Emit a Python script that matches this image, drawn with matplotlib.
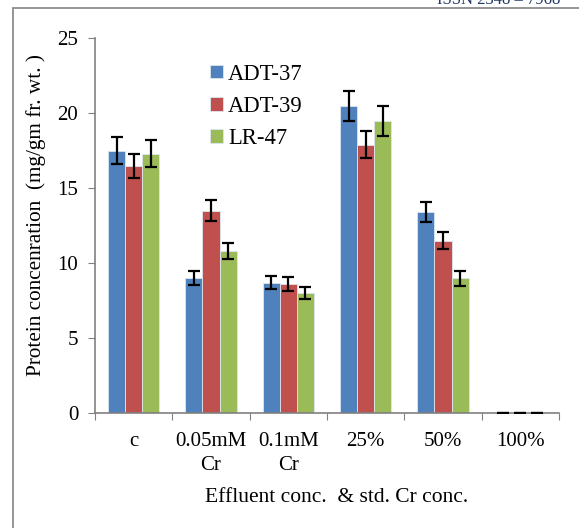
import matplotlib
matplotlib.use("Agg")
import matplotlib.pyplot as plt
import numpy as np
from matplotlib.patches import Rectangle

categories = ["c", "0.05mM\nCr", "0.1mM\nCr", "25%", "50%", "100%"]
series_names = ["ADT-37", "ADT-39", "LR-47"]
adt37 = [17.5, 9.0, 8.7, 20.5, 13.4, 0.0]
adt39 = [16.5, 13.5, 8.6, 17.9, 11.5, 0.0]
lr47 = [17.3, 10.8, 8.0, 19.5, 9.0, 0.0]
adt37_err = [0.9, 0.45, 0.45, 1.0, 0.65, 0.0]
adt39_err = [0.8, 0.7, 0.45, 0.9, 0.55, 0.0]
lr47_err = [0.9, 0.55, 0.4, 1.0, 0.5, 0.0]
yticks = [0, 5, 10, 15, 20, 25]

colors = ["#4F81BD", "#C0504D", "#9BBB59"]

plt.rcParams['font.family'] = ['Liberation Serif', 'DejaVu Serif']

fig = plt.figure(figsize=(5.79, 5.28), dpi=100)
ax = fig.add_axes([95/579, 1-413/528, (559-95)/579, (413-38)/528])

x = np.arange(len(categories))
w = 0.22
vals = [adt37, adt39, lr47]
errs = [adt37_err, adt39_err, lr47_err]
for i, (v, e, c, n) in enumerate(zip(vals, errs, colors, series_names)):
    pos = x + (i - 1) * w
    ax.bar(pos, v, width=w, color=c, edgecolor="#dde6f0", linewidth=0.6, label=n, zorder=2)
    ax.errorbar(pos, v, yerr=e, fmt="none", ecolor="black", elinewidth=1.6,
                capsize=4, capthick=1.6, zorder=3)

ax.set_xlim(-0.5, len(categories) - 0.5)
ax.set_ylim(0, 25)
ax.set_yticks(yticks)
ax.set_yticklabels([str(t) for t in yticks], fontsize=15)
ax.set_xticks(np.arange(len(categories) + 1) - 0.5, minor=False)
ax.set_xticklabels([])
ax.set_xticks(x, minor=True)
ax.set_xticklabels(categories, minor=True, fontsize=15, linespacing=1.3)
ax.tick_params(axis="x", which="minor", length=0, pad=14)
ax.tick_params(axis="x", which="major", length=5, color="#808080", direction="out")
ax.tick_params(axis="y", length=5, color="#808080", direction="out", pad=7)
for s in ["top", "right"]:
    ax.spines[s].set_visible(False)
for s in ["left", "bottom"]:
    ax.spines[s].set_color("#808080")
    ax.spines[s].set_linewidth(1.2)

ax.set_ylabel("Protein concenration  (mg/gm fr. wt. )", fontsize=15.3, va="center")
ax.yaxis.set_label_coords((36 - 95) / 464, (413 - 215) / 375)
ax.set_xlabel("Effluent conc.  & std. Cr conc.", fontsize=15.5, va="center")
ax.xaxis.set_label_coords((337 - 95) / 464, -(497 - 413) / 375)

leg = ax.legend(loc="upper left", bbox_to_anchor=(0.205, 0.986), frameon=False,
                fontsize=16.3, handlelength=0.55, handleheight=0.55, handletextpad=0.22,
                labelspacing=0.5)

# outer border
fig.add_artist(Rectangle((13/579, -0.1), 1.2, 1 - 8/528 + 0.1, transform=fig.transFigure,
                         fill=False, edgecolor="#8c8c8c", linewidth=1.3))
fig.text(0.755, 1.0, "ISSN 2348 – 7968", fontsize=12, color="#1f3864",
         ha="left", va="center")

fig.savefig("out.png", dpi=100)
